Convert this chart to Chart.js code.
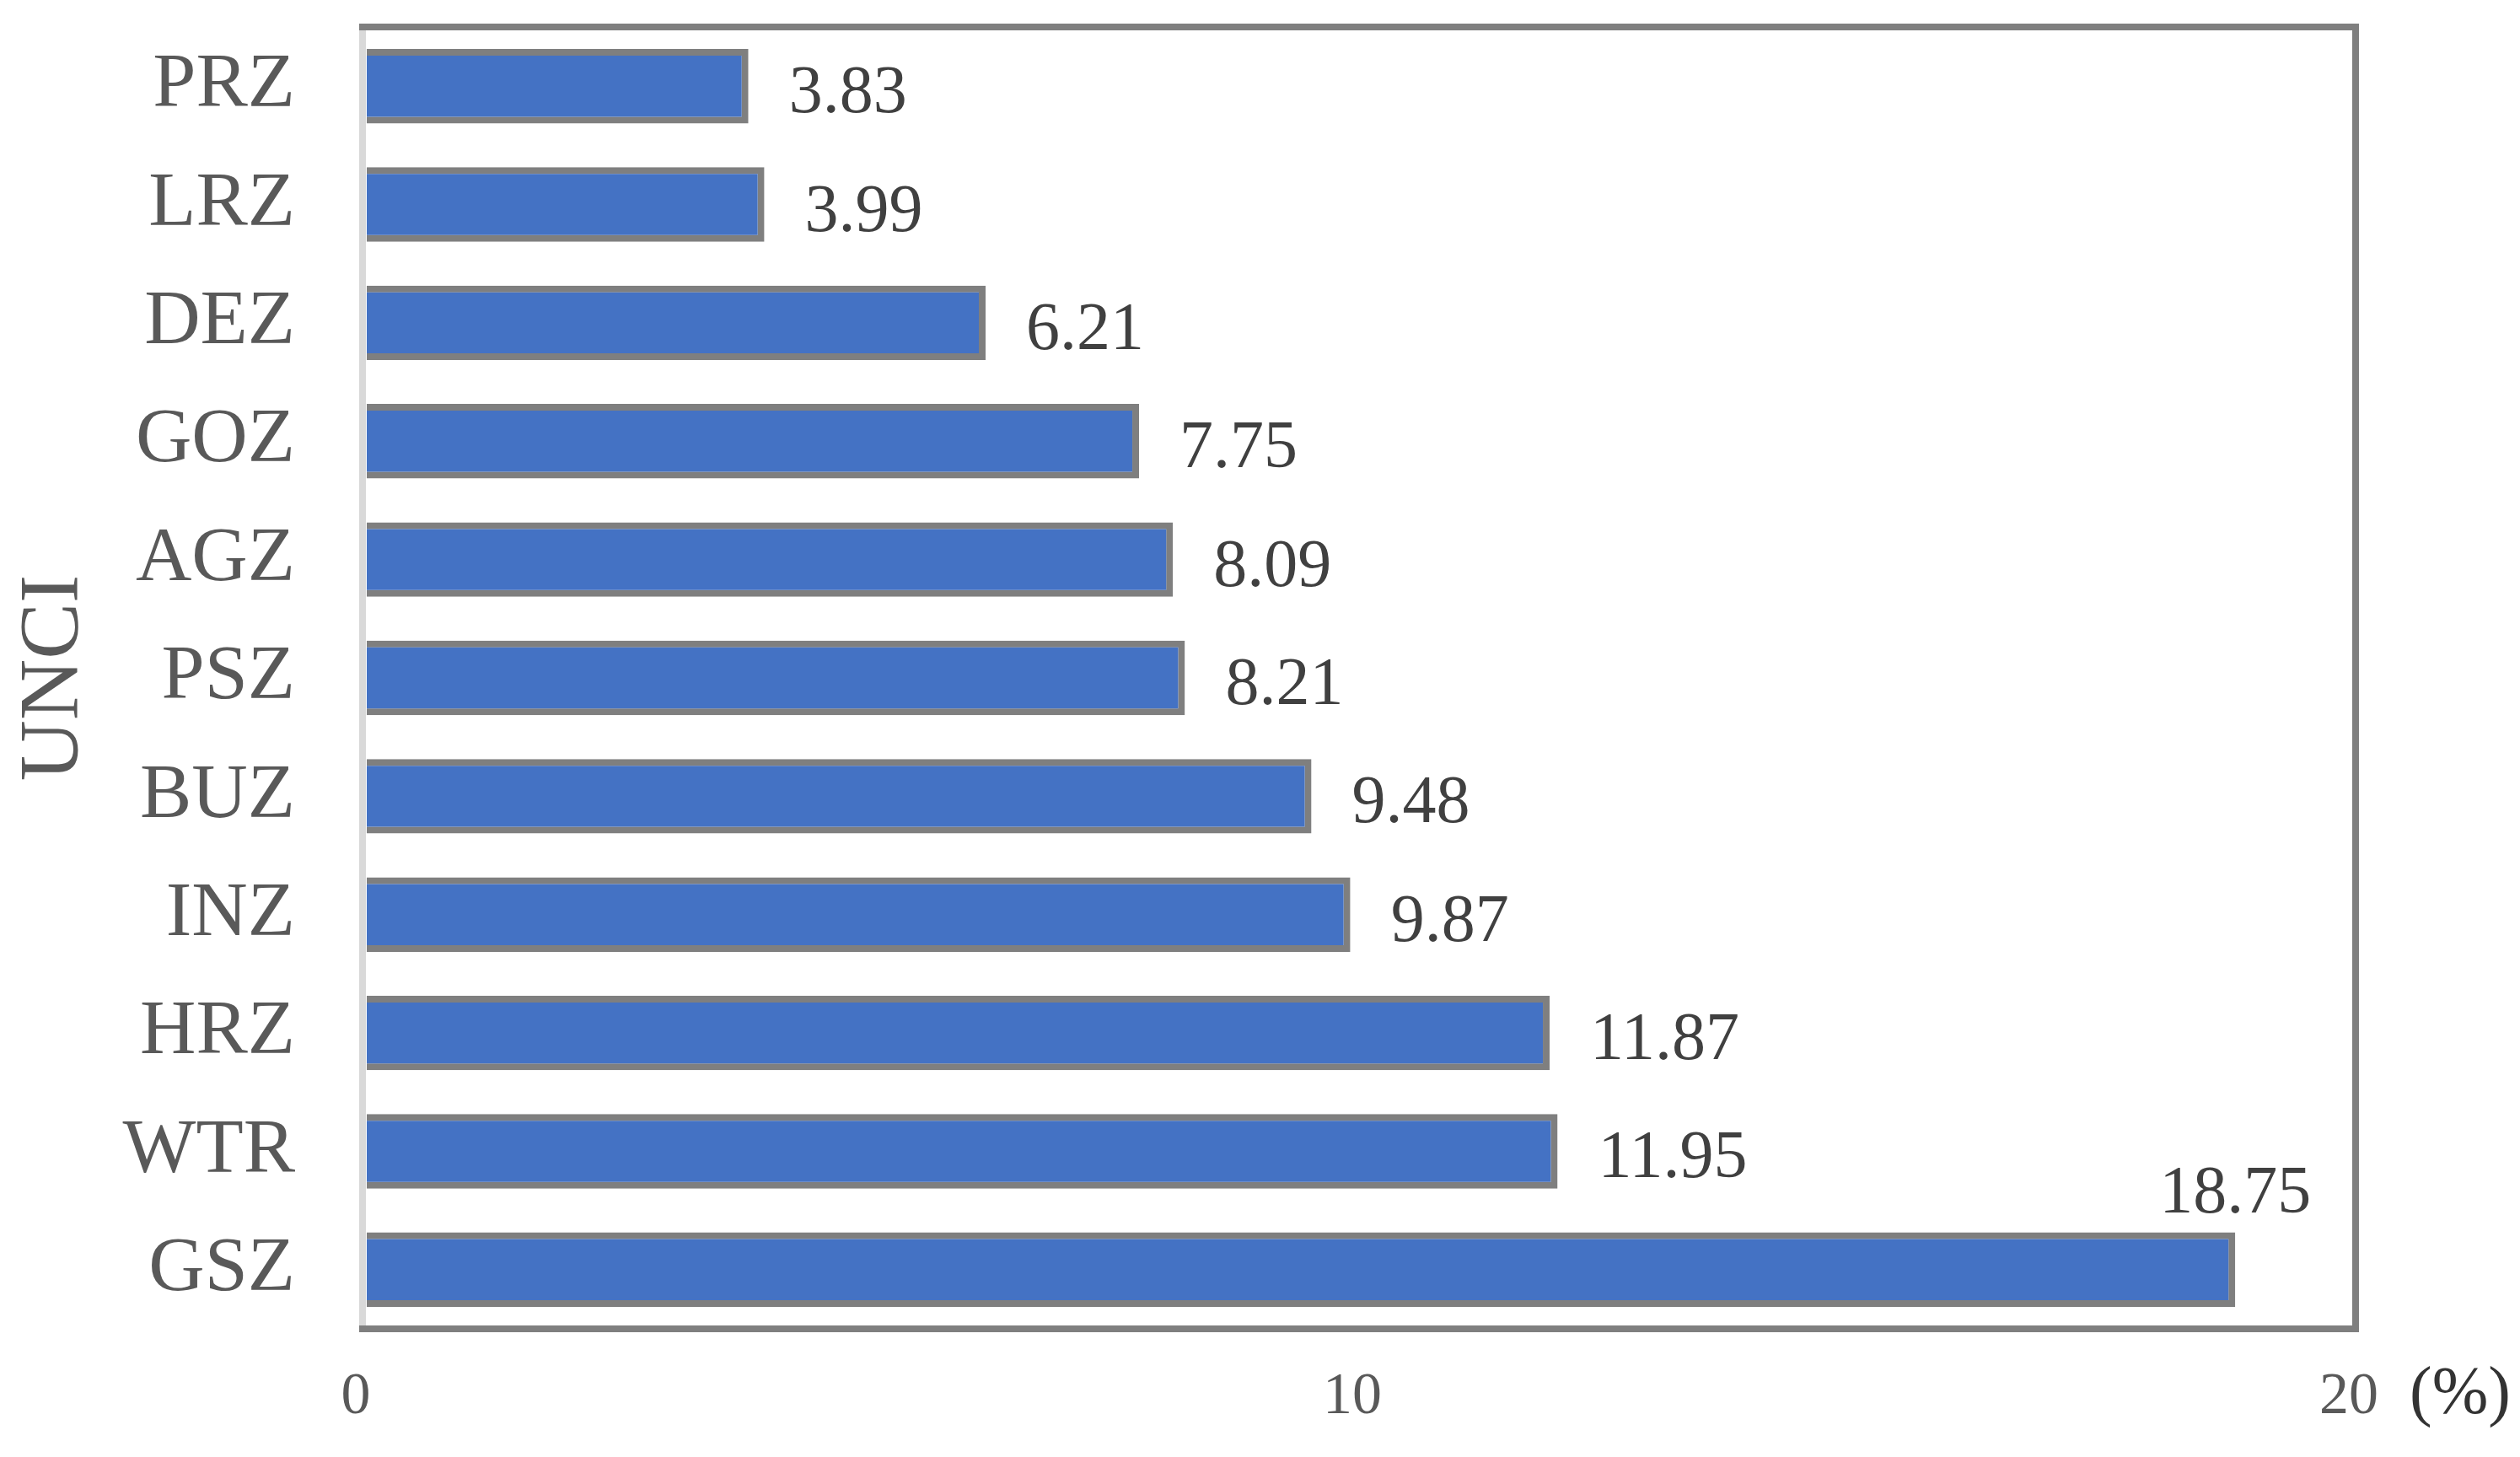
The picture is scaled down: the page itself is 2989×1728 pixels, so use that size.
<!DOCTYPE html>
<html>
<head>
<meta charset="utf-8">
<script src="https://cdn.jsdelivr.net/npm/chart.js@4"></script>
<style>
html,body{margin:0;padding:0;background:#ffffff;}
#wrap{width:2989px;height:1728px;}
</style>
</head>
<body>
<div id="wrap"><canvas id="c" width="2989" height="1728"></canvas></div>
<script>
const categories = ['PRZ','LRZ','DEZ','GOZ','AGZ','PSZ','BUZ','INZ','HRZ','WTR','GSZ'];
const values = [3.83,3.99,6.21,7.75,8.09,8.21,9.48,9.87,11.87,11.95,18.75];
const xTickValues = [0,10,20];
const yAxisTitle = 'UNCI';
const unitLabel = '(%)';

const SERIF = '"Liberation Serif","Times New Roman",serif';

const framePlugin = {
  id: 'frame',
  afterDatasetsDraw(chart) {
    const {ctx, chartArea: a} = chart;
    ctx.save();
    ctx.lineCap = 'butt';
    ctx.lineWidth = 8;
    // left axis line (light)
    ctx.strokeStyle = '#d9d9d9';
    ctx.beginPath();
    ctx.moveTo(a.left - 5, a.top);
    ctx.lineTo(a.left - 5, a.bottom);
    ctx.stroke();
    // top / right / bottom (dark gray)
    ctx.strokeStyle = '#7f7f7f';
    ctx.beginPath();
    ctx.moveTo(a.left - 9, a.top);
    ctx.lineTo(a.right - 1, a.top);
    ctx.moveTo(a.right - 5, a.top - 4);
    ctx.lineTo(a.right - 5, a.bottom + 4);
    ctx.moveTo(a.left - 9, a.bottom);
    ctx.lineTo(a.right - 1, a.bottom);
    ctx.stroke();
    ctx.restore();
  }
};

const valueLabelPlugin = {
  id: 'valueLabels',
  afterDatasetsDraw(chart) {
    const {ctx, chartArea: a} = chart;
    const meta = chart.getDatasetMeta(0);
    ctx.save();
    ctx.font = '80px ' + SERIF;
    ctx.fillStyle = '#404040';
    meta.data.forEach((el, i) => {
      const {x, y, height} = el.getProps(['x','y','height'], true);
      const txt = values[i].toFixed(2);
      const w = ctx.measureText(txt).width;
      if (x + 48 + w > a.right) {
        ctx.textAlign = 'center';
        ctx.textBaseline = 'alphabetic';
        ctx.fillText(txt, x, y - height / 2 - 24);
      } else {
        ctx.textAlign = 'left';
        ctx.textBaseline = 'alphabetic';
        ctx.fillText(txt, x + 48, y + 31);
      }
    });
    // unit label next to x axis
    ctx.font = '80px ' + SERIF;
    ctx.fillStyle = '#333333';
    ctx.textAlign = 'left';
    ctx.textBaseline = 'alphabetic';
    ctx.fillText(unitLabel, a.right + 59, a.bottom + 100);
    ctx.restore();
  }
};

new Chart(document.getElementById('c'), {
  type: 'bar',
  data: {
    labels: categories,
    datasets: [{
      data: values,
      backgroundColor: '#4472c4',
      borderColor: '#7f7f7f',
      borderWidth: 8,
      borderSkipped: 'start',
      categoryPercentage: 1.0,
      barPercentage: 0.63
    }]
  },
  options: {
    indexAxis: 'y',
    responsive: false,
    animation: false,
    devicePixelRatio: 1,
    layout: { padding: { top: 32, right: 190, bottom: 0, left: 0 } },
    plugins: { legend: { display: false }, tooltip: { enabled: false } },
    scales: {
      x: {
        type: 'linear',
        min: 0,
        max: 20,
        afterBuildTicks(scale) { scale.ticks = xTickValues.map(v => ({value: v})); },
        afterFit(scale) { scale.height = 152; scale.paddingLeft = 0; scale.paddingRight = 0; },
        grid: { display: false, drawTicks: false },
        border: { display: false },
        ticks: {
          padding: 40,
          labelOffset: -13,
          color: '#595959',
          font: { family: SERIF, size: 70 }
        }
      },
      y: {
        type: 'category',
        afterFit(scale) { scale.width = 435; scale.paddingTop = 0; scale.paddingBottom = 0; },
        grid: { display: false, drawTicks: false },
        border: { display: false },
        ticks: {
          padding: 85,
          color: '#595959',
          font: { family: SERIF, size: 92 }
        },
        title: {
          display: true,
          text: yAxisTitle,
          color: '#595959',
          font: { family: SERIF, size: 100 },
          padding: { top: 5, bottom: 0 }
        }
      }
    }
  },
  plugins: [framePlugin, valueLabelPlugin]
});
</script>
</body>
</html>
